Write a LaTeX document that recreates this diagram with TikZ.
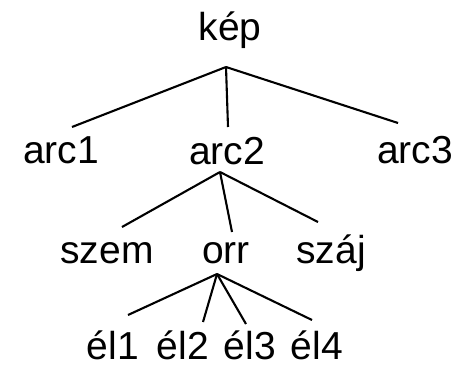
\documentclass[tikz,border=0pt]{standalone}
\usepackage{fontspec}
\setmainfont{Liberation Sans}
\begin{document}
\begin{tikzpicture}[x=1pt,y=-1pt,
  lbl/.style={anchor=base,inner sep=0pt,font=\fontsize{39}{39}\selectfont},
  edge/.style={line width=2.1pt}]
\useasboundingbox (0,0) rectangle (473,364);
% labels
\node[lbl] (kep)  at (230,40) {kép};
\node[lbl] (arc1) at (61,163) {arc1};
\node[lbl] (arc2) at (227,164) {arc2};
\node[lbl] (arc3) at (415,163) {arc3};
\node[lbl] (szem) at (107,263) {szem};
\node[lbl] (orr)  at (226,263) {orr};
\node[lbl] (szaj) at (331,263) {száj};
\node[lbl] (el1)  at (113,359) {él1};
\node[lbl] (el2)  at (183,359) {él2};
\node[lbl] (el3)  at (250,359) {él3};
\node[lbl] (el4)  at (317,359) {él4};
% branch points and edge ends
\coordinate (kepB) at (226,67);
\coordinate (arc1T) at (72,127);
\coordinate (arc2T) at (228,127);
\coordinate (arc3T) at (398,123);
\coordinate (arc2B) at (220,172);
\coordinate (szemT) at (122,227);
\coordinate (orrT) at (232,232);
\coordinate (szajT) at (318,222);
\coordinate (orrB) at (217,274);
\coordinate (el1T) at (128,315);
\coordinate (el2T) at (203,322);
\coordinate (el3T) at (246,324);
\coordinate (el4T) at (312,320);
% edges
\draw[edge] (kepB) -- (arc1T);
\draw[edge] (kepB) -- (arc2T);
\draw[edge] (kepB) -- (arc3T);
\draw[edge] (arc2B) -- (szemT);
\draw[edge] (arc2B) -- (orrT);
\draw[edge] (arc2B) -- (szajT);
\draw[edge] (orrB) -- (el1T);
\draw[edge] (orrB) -- (el2T);
\draw[edge] (orrB) -- (el3T);
\draw[edge] (orrB) -- (el4T);
\end{tikzpicture}
\end{document}
